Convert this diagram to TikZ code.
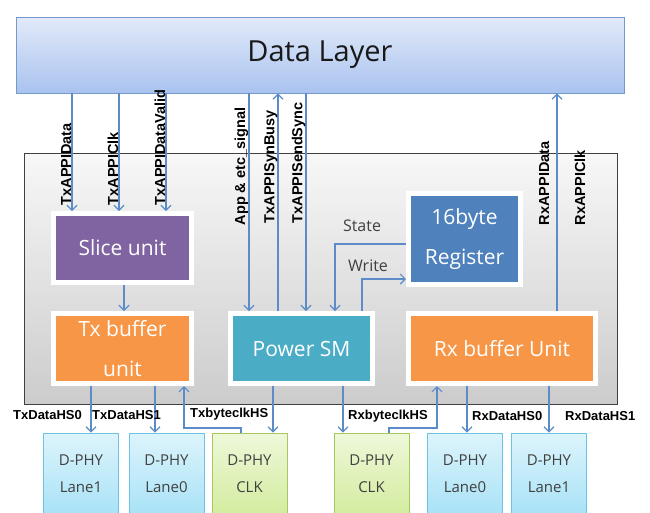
\documentclass[tikz,border=0pt]{standalone}
\usepackage{fontspec}
\setmainfont{Open Sans}
\newfontfamily\lblfont{Liberation Sans}
\usetikzlibrary{arrows.meta,shadows}

\definecolor{sigblue}{HTML}{5B8BC9}
\definecolor{slicepurple}{HTML}{8064A2}
\definecolor{buforange}{HTML}{F79646}
\definecolor{smteal}{HTML}{4BACC6}
\definecolor{regblue}{HTML}{4F81BD}
\definecolor{dltop}{HTML}{E2EAF9}
\definecolor{dlbot}{HTML}{A9C3EF}
\definecolor{lanetop}{HTML}{DDF4FC}
\definecolor{lanebot}{HTML}{A8E2F6}
\definecolor{laneline}{HTML}{6CC3E4}
\definecolor{clktop}{HTML}{EEF8DA}
\definecolor{clkbot}{HTML}{D3EC9E}
\definecolor{clkline}{HTML}{A5C95C}

\begin{document}
\begin{tikzpicture}[x=1pt,y=-1pt,
	sig/.style={draw=sigblue,line width=1.2pt},
	arr/.style={sig,-{Straight Barb[length=5pt,width=10pt]}},
	blk/.style={draw=white,line width=5pt,text=white,align=center,inner sep=0pt,
		font=\fontsize{21}{40}\selectfont,
		drop shadow={shadow xshift=2.5pt,shadow yshift=-2.5pt,opacity=.3}},
	vlbl/.style={rotate=90,anchor=south west,inner sep=0.5pt,
		font=\lblfont\bfseries\fontsize{14.5}{16}\selectfont},
	hlbl/.style={anchor=west,inner sep=0pt,
		font=\lblfont\bfseries\fontsize{13}{15}\selectfont},
	phybox/.style={line width=0.8pt,minimum width=75pt,minimum height=82pt,align=center,
		text=black!75,font=\fontsize{15}{27}\selectfont},
	lanebox/.style={phybox,draw=laneline,top color=lanetop,bottom color=lanebot},
	clkbox/.style={phybox,draw=clkline,top color=clktop,bottom color=clkbot}]
	\useasboundingbox (0,0) rectangle (650,512);
	\clip (0,0) rectangle (650,512);
	% data layer on top and controller frame
	\node[draw=regblue!80,line width=0.8pt,top color=dltop,bottom color=dlbot,
		minimum width=608pt,minimum height=76pt,text=black!90,font=\fontsize{29}{30}\selectfont]
		(dl) at (320,55) {Data Layer};
	\node[draw=black!75,line width=0.8pt,top color=gray!6,bottom color=gray!40,
		minimum width=593pt,minimum height=251pt] (ctrl) at (320.5,278.5) {};
	% inner units
	\node[blk,fill=slicepurple,minimum width=138pt,minimum height=69pt] (slice) at (122.5,248) {Slice unit};
	\node[blk,fill=buforange,minimum width=138pt,minimum height=70pt] (txb) at (122.5,348.5) {Tx buffer\\unit};
	\node[blk,fill=smteal,minimum width=142pt,minimum height=70pt] (psm) at (301.5,348.5) {Power SM};
	\node[blk,fill=regblue,minimum width=112pt,minimum height=91pt] (reg) at (464.5,239) {16byte\\Register};
	\node[blk,fill=buforange,minimum width=187pt,minimum height=70pt] (rxb) at (502,348.5) {Rx buffer Unit};
	% D-PHY lanes
	\node[lanebox] (lane1a) at (81,474) {D-PHY\\Lane1};
	\node[lanebox] (lane0a) at (166.5,474) {D-PHY\\Lane0};
	\node[clkbox] (clka) at (249.5,474) {D-PHY\\CLK};
	\node[clkbox] (clkb) at (371.5,474) {D-PHY\\CLK};
	\node[lanebox] (lane0b) at (465,474) {D-PHY\\Lane0};
	\node[lanebox] (lane1b) at (549,474) {D-PHY\\Lane1};
	% signals from and to the data layer
	\draw[arr] (dl.south -| 72,0) -- (slice.north -| 72,0);
	\draw[arr] (dl.south -| 119,0) -- (slice.north -| 119,0);
	\draw[arr] (dl.south -| 166,0) -- (slice.north -| 166,0);
	\draw[arr] (dl.south -| 249,0) -- (psm.north -| 249,0);
	\draw[arr] (psm.north -| 278,0) -- (dl.south -| 278,0);
	\draw[arr] (dl.south -| 306,0) -- (psm.north -| 306,0);
	\draw[arr] (rxb.north -| 557,0) -- (dl.south -| 557,0);
	\node[vlbl] (l1) at (72,206) {TxAPPIData};
	\node[vlbl] (l2) at (119,206) {TxAPPIClk};
	\node[vlbl] (l3) at (166,206) {TxAPPIDataValid};
	\node[vlbl] (l4) at (249,226) {App \& etc\_signal};
	\node[vlbl] (l5) at (278,224) {TxAPPISynBusy};
	\node[vlbl] (l6) at (306,224) {TxAPPISendSync};
	\node[vlbl] (l7) at (550,226) {RxAPPIData};
	\node[vlbl] (l8) at (586,226) {RxAPPIClk};
	% inside the controller
	\draw[arr] (slice.south -| 124,0) -- (txb.north -| 124,0);
	\draw[arr] (reg.west |- 0,244) -| (psm.north -| 335,0);
	\draw[arr] (psm.north -| 362,0) |- (reg.west |- 0,279);
	\node[text=black!75,font=\fontsize{16}{18}\selectfont] (st) at (362,226) {State};
	\node[text=black!75,font=\fontsize{16}{18}\selectfont] (wr) at (368,266) {Write};
	% to and from the lanes
	\coordinate (tkc) at (184,428);
	\coordinate (rkc) at (437,428);
	\draw[arr] (txb.south -| 91,0) -- (lane1a.north -| 91,0);
	\draw[arr] (txb.south -| 155,0) -- (lane0a.north -| 155,0);
	\draw[arr] (clka.north -| 241,0) |- (tkc) -- (txb.south -| tkc);
	\draw[arr] (psm.south -| 273,0) -- (clka.north -| 273,0);
	\draw[arr] (psm.south -| 343,0) -- (clkb.north -| 343,0);
	\draw[arr] (clkb.north -| 389,0) |- (rkc) -- (rxb.south -| rkc);
	\draw[arr] (rxb.south -| 467,0) -- (lane0b.north -| 467,0);
	\draw[arr] (rxb.south -| 549,0) -- (lane1b.north -| 549,0);
	\node[hlbl] (b1) at (13,415) {TxDataHS0};
	\node[hlbl] (b2) at (92,415) {TxDataHS1};
	\node[hlbl] (b3) at (190,414) {TxbyteclkHS};
	\node[hlbl] (b4) at (348,416) {RxbyteclkHS};
	\node[hlbl] (b5) at (472,416) {RxDataHS0};
	\node[hlbl] (b6) at (565,416) {RxDataHS1};
\end{tikzpicture}
\end{document}
